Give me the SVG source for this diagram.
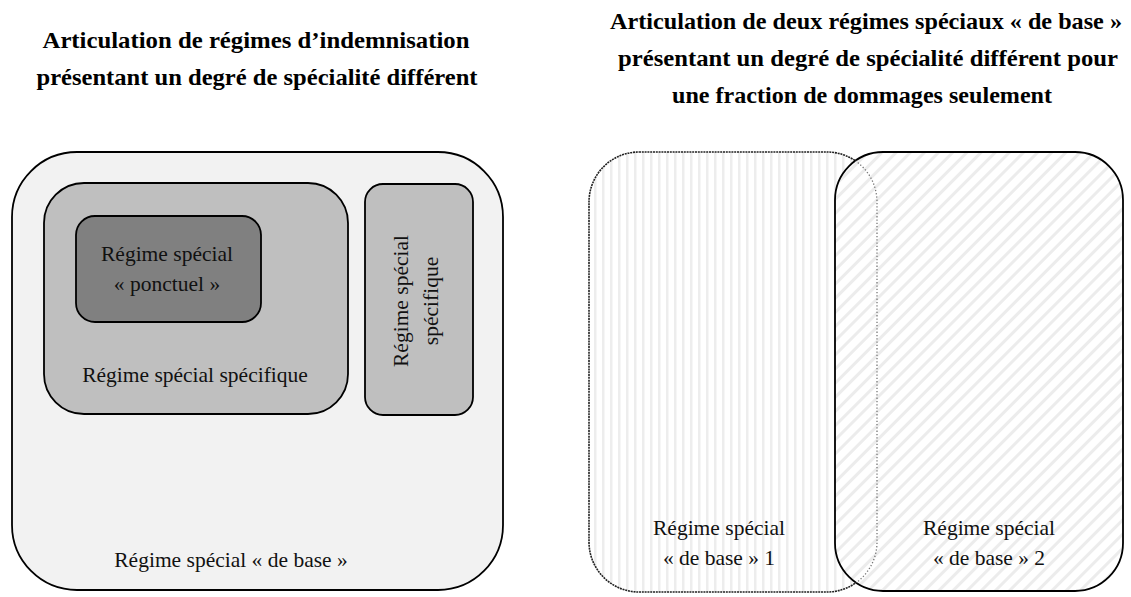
<svg xmlns="http://www.w3.org/2000/svg" width="1131" height="597" viewBox="0 0 1131 597">
  <style>
    .title { font-family: "Liberation Serif", "DejaVu Serif", serif; font-weight: bold; font-size: 24px; fill: #000; text-anchor: middle; }
    .lbl { font-family: "Liberation Serif", "DejaVu Serif", serif; font-size: 21.5px; fill: #111; text-anchor: middle; }
    .box { stroke: #000; stroke-width: 1.8; }
  </style>
  <defs>
    <pattern id="vstripe" width="8" height="8" patternUnits="userSpaceOnUse">
      <rect width="8" height="8" fill="#ffffff"/>
      <rect x="2" y="0" width="2.5" height="8" fill="#ededed"/>
    </pattern>
    <pattern id="dstripe" width="10" height="10" patternUnits="userSpaceOnUse" patternTransform="rotate(45)">
      <rect width="10" height="10" fill="#ffffff"/>
      <rect x="0" y="0" width="3" height="10" fill="#ececec"/>
    </pattern>
    <clipPath id="box2clip">
      <rect x="835" y="152" width="288" height="439" rx="48" ry="48"/>
    </clipPath>
  </defs>
  <rect width="1131" height="597" fill="#ffffff"/>

  <g id="titles">
    <text class="title" x="256" y="48" textLength="427" lengthAdjust="spacingAndGlyphs">Articulation de régimes d’indemnisation</text>
    <text class="title" x="257" y="85" textLength="441" lengthAdjust="spacingAndGlyphs">présentant un degré de spécialité différent</text>
    <text class="title" x="866" y="29" textLength="512" lengthAdjust="spacingAndGlyphs">Articulation de deux régimes spéciaux « de base »</text>
    <text class="title" x="868" y="66" textLength="500" lengthAdjust="spacingAndGlyphs">présentant un degré de spécialité différent pour</text>
    <text class="title" x="862" y="103" textLength="380" lengthAdjust="spacingAndGlyphs">une fraction de dommages seulement</text>
  </g>

  <g id="base">
    <rect class="box" x="12" y="152" width="491" height="438" rx="65" ry="65" fill="#f2f2f2"/>
    <text class="lbl" x="231" y="567">Régime spécial « de base »</text>
  </g>

  <g id="specifique">
    <rect class="box" x="44" y="183" width="304" height="231" rx="40" ry="40" fill="#bfbfbf"/>
    <text class="lbl" x="195" y="382">Régime spécial spécifique</text>
  </g>

  <g id="ponctuel">
    <rect class="box" x="76" y="216" width="185" height="106" rx="19" ry="19" fill="#808080"/>
    <text class="lbl" x="167" y="261">Régime spécial</text>
    <text class="lbl" x="167" y="291">« ponctuel »</text>
  </g>

  <g id="specifique2">
    <rect class="box" x="365" y="184" width="108" height="231" rx="18" ry="18" fill="#bfbfbf"/>
    <text class="lbl" transform="translate(408,301) rotate(-90)" x="0" y="0">Régime spécial</text>
    <text class="lbl" transform="translate(438,301) rotate(-90)" x="0" y="0">spécifique</text>
  </g>

  <g id="base1">
    <rect x="589" y="152" width="288" height="440" rx="50" ry="50" fill="url(#vstripe)" stroke="#222" stroke-width="1.6" stroke-dasharray="2 0.8"/>
    <text class="lbl" x="719" y="535">Régime spécial</text>
    <text class="lbl" x="719" y="565">« de base » 1</text>
  </g>

  <g id="base2">
    <rect class="box" x="835" y="152" width="288" height="439" rx="48" ry="48" fill="url(#dstripe)"/>
    <text class="lbl" x="989" y="535">Régime spécial</text>
    <text class="lbl" x="989" y="565">« de base » 2</text>
  </g>

  <g id="connectors">
    <rect x="589" y="152" width="288" height="440" rx="50" ry="50" fill="none" stroke="#777" stroke-width="1.3" stroke-dasharray="1.3 2" clip-path="url(#box2clip)"/>
  </g>
</svg>
